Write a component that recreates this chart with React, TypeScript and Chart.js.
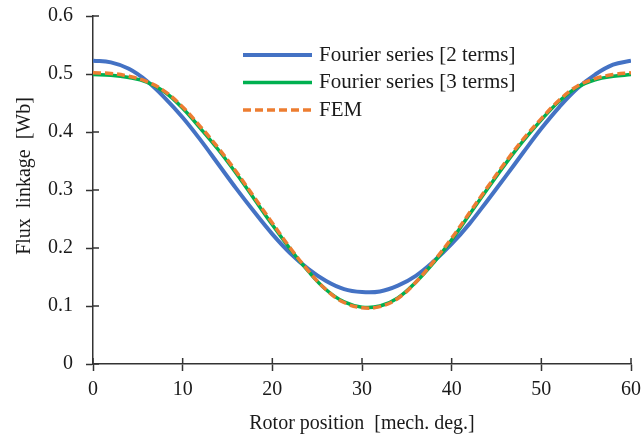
import React, { useEffect, useRef } from "react";
import { Chart, registerables } from "chart.js";

Chart.register(...registerables);

// Rotor position [mech. deg.]
const positions = [0, 2, 4, 6, 8, 10, 12, 14, 16, 18, 20, 22, 24, 26, 28, 30, 32, 34, 36, 38, 40, 42, 44, 46, 48, 50, 52, 54, 56, 58, 60];
// Flux linkage [Wb]
const fourier2 = [0.523, 0.520, 0.509, 0.488, 0.459, 0.425, 0.386, 0.344, 0.302, 0.262, 0.224, 0.191, 0.164, 0.143, 0.129, 0.124, 0.125, 0.135, 0.152, 0.177, 0.207, 0.242, 0.282, 0.323, 0.365, 0.406, 0.443, 0.475, 0.499, 0.516, 0.523];
const fourier3 = [0.499, 0.498, 0.494, 0.486, 0.469, 0.441, 0.406, 0.369, 0.328, 0.284, 0.240, 0.198, 0.160, 0.128, 0.107, 0.098, 0.100, 0.114, 0.141, 0.175, 0.214, 0.258, 0.302, 0.345, 0.385, 0.421, 0.453, 0.477, 0.490, 0.496, 0.499];
const fem = [0.502, 0.501, 0.496, 0.487, 0.470, 0.443, 0.409, 0.372, 0.331, 0.287, 0.243, 0.200, 0.161, 0.128, 0.106, 0.097, 0.099, 0.113, 0.141, 0.177, 0.217, 0.261, 0.305, 0.348, 0.388, 0.423, 0.455, 0.479, 0.492, 0.499, 0.502];

const seriesNames = ["Fourier series [2 terms]", "Fourier series [3 terms]", "FEM"];
const xTitle = "Rotor position  [mech. deg.]";
const yTitle = "Flux  linkage  [Wb]";
const xRange = [0, 60, 10];
const yRange = [0, 0.6, 0.1];

const FONT = "'Liberation Serif', 'Times New Roman', serif";
const AXIS_COLOR = "#333333";

const innerTicksPlugin = {
  id: "innerTicks",
  beforeDatasetsDraw(chart: any) {
    const ctx = chart.ctx;
    const xs = chart.scales.x;
    const ys = chart.scales.y;
    ctx.save();
    ctx.strokeStyle = AXIS_COLOR;
    ctx.lineWidth = 1.5;
    ctx.beginPath();
    xs.ticks.forEach((t: any) => {
      const px = xs.getPixelForValue(t.value);
      ctx.moveTo(px, ys.bottom);
      ctx.lineTo(px, ys.bottom - 6);
    });
    ys.ticks.forEach((t: any) => {
      const py = ys.getPixelForValue(t.value);
      ctx.moveTo(xs.left, py);
      ctx.lineTo(xs.left + 6, py);
    });
    ctx.stroke();
    ctx.restore();
  },
};

const titlesLegendPlugin = {
  id: "titlesLegend",
  afterDraw(chart: any) {
    const ctx = chart.ctx;
    const area = chart.chartArea;
    ctx.save();
    ctx.fillStyle = "#1a1a1a";
    // x title
    ctx.font = `20px ${FONT}`;
    ctx.textAlign = "center";
    ctx.textBaseline = "alphabetic";
    ctx.fillText(xTitle, (area.left + area.right) / 2, area.bottom + 64.5);
    // y title
    ctx.save();
    ctx.translate(area.left - 63, (area.top + area.bottom) / 2 - 14);
    ctx.rotate(-Math.PI / 2);
    ctx.fillText(yTitle, 0, 0);
    ctx.restore();
    // legend
    const lx = area.left + 150;
    const ly = area.top + 39;
    const rowH = 27.5;
    chart.data.datasets.forEach((ds: any, i: number) => {
      const y = ly + i * rowH;
      ctx.save();
      ctx.strokeStyle = ds.borderColor;
      ctx.lineWidth = ds.borderWidth;
      ctx.setLineDash(ds.borderDash || []);
      ctx.beginPath();
      ctx.moveTo(lx, y);
      ctx.lineTo(lx + 69, y);
      ctx.stroke();
      ctx.restore();
      ctx.font = `21px ${FONT}`;
      ctx.textAlign = "left";
      ctx.textBaseline = "middle";
      ctx.fillStyle = "#1a1a1a";
      ctx.fillText(ds.label, lx + 76, y);
    });
    ctx.restore();
  },
};

export default function App() {
  const canvasRef = useRef<HTMLCanvasElement | null>(null);

  useEffect(() => {
    document.body.style.margin = "0";
    const canvas = canvasRef.current;
    if (!canvas) return;
    const mk = (arr: number[]) => positions.map((x, i) => ({ x, y: arr[i] }));
    const chart = new Chart(canvas, {
      type: "line",
      data: {
        datasets: [
          {
            label: seriesNames[0],
            data: mk(fourier2),
            borderColor: "#4472C4",
            borderWidth: 4,
            pointRadius: 0,
            tension: 0.4,
            order: 3,
          },
          {
            label: seriesNames[1],
            data: mk(fourier3),
            borderColor: "#00B050",
            borderWidth: 3.5,
            pointRadius: 0,
            tension: 0.4,
            order: 2,
          },
          {
            label: seriesNames[2],
            data: mk(fem),
            borderColor: "#ED7D31",
            borderWidth: 3.5,
            borderDash: [8, 4],
            pointRadius: 0,
            tension: 0.4,
            order: 1,
          },
        ],
      },
      options: {
        animation: false,
        responsive: true,
        maintainAspectRatio: false,
        layout: { padding: { left: 0, right: 12, top: 16, bottom: 0 } },
        plugins: {
          legend: { display: false },
          tooltip: { enabled: false },
        },
        scales: {
          x: {
            type: "linear",
            min: xRange[0],
            max: xRange[1],
            ticks: {
              stepSize: xRange[2],
              color: "#1a1a1a",
              font: { family: FONT, size: 20 },
              padding: 7,
              maxRotation: 0,
            },
            grid: {
              drawOnChartArea: false,
              drawTicks: true,
              tickLength: 7,
              tickWidth: 1.5,
              tickColor: AXIS_COLOR,
            },
            border: { display: true, color: AXIS_COLOR, width: 1.5 },
            afterFit(scale: any) {
              scale.height = 72;
              scale.paddingLeft = 0;
              scale.paddingRight = 0;
            },
          },
          y: {
            type: "linear",
            min: yRange[0],
            max: yRange[1],
            ticks: {
              stepSize: yRange[2],
              color: "#1a1a1a",
              font: { family: FONT, size: 20 },
              padding: 13,
            },
            grid: {
              drawOnChartArea: false,
              drawTicks: true,
              tickLength: 7,
              tickWidth: 1.5,
              tickColor: AXIS_COLOR,
            },
            border: { display: true, color: AXIS_COLOR, width: 1.5 },
            afterFit(scale: any) {
              scale.width = 93;
              scale.paddingTop = 0;
              scale.paddingBottom = 0;
            },
          },
        },
      },
      plugins: [innerTicksPlugin, titlesLegendPlugin],
    } as any);
    return () => chart.destroy();
  }, []);

  return (
    <div style={{ position: "relative", width: 643, height: 436 }}>
      <canvas ref={canvasRef} />
    </div>
  );
}
